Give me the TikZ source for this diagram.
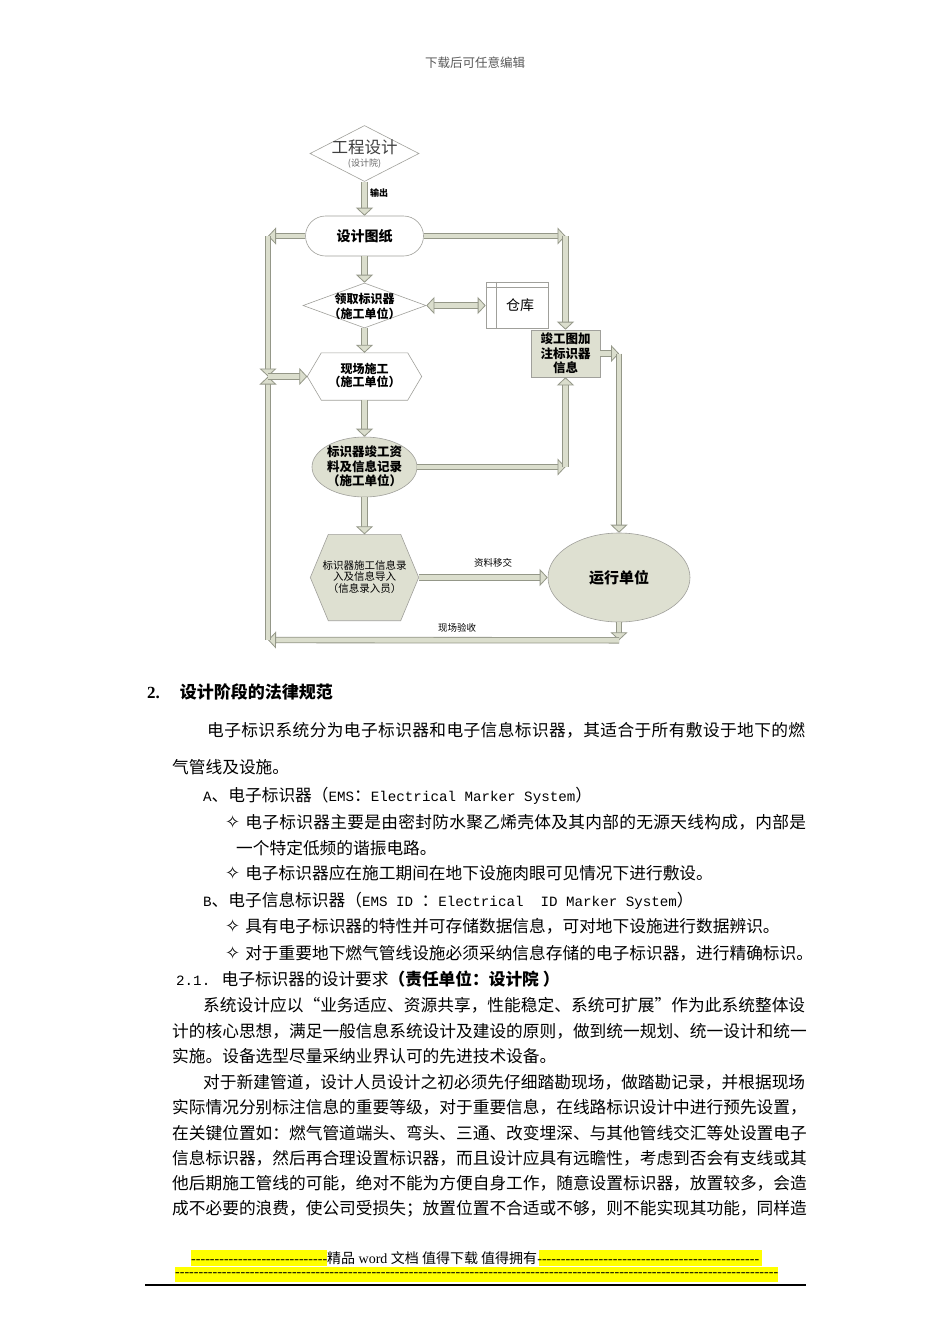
\documentclass[tikz,border=0pt]{standalone}
\usepackage{fontspec}
\setmainfont{Noto Sans CJK SC}
\newfontfamily\mono{Liberation Mono}
\newfontfamily\lserif{Liberation Serif}
\newfontfamily\dejavu{DejaVu Sans}
\usetikzlibrary{shapes.geometric,arrows.meta}
% inter-character stretch for CJK so that full lines can be justified
\XeTeXinterchartokenstate=1
\newXeTeXintercharclass\cjkcls
\count255="3000
\loop\ifnum\count255<"3040 \XeTeXcharclass\count255=\cjkcls \advance\count255 by 1 \repeat
\count255="4E00
\loop\ifnum\count255<"A000 \XeTeXcharclass\count255=\cjkcls \advance\count255 by 1 \repeat
\count255="FF00
\loop\ifnum\count255<"FFF0 \XeTeXcharclass\count255=\cjkcls \advance\count255 by 1 \repeat
\XeTeXcharclass"201C=\cjkcls
\XeTeXcharclass"201D=\cjkcls
\XeTeXinterchartoks\cjkcls\cjkcls={\hskip 0pt plus 4pt\relax}
\definecolor{pipef}{RGB}{219,222,205}
\definecolor{pipeb}{RGB}{148,151,136}
\definecolor{shapef}{RGB}{222,224,209}
\definecolor{shapeb}{RGB}{160,160,155}
\definecolor{hl}{RGB}{255,255,0}
\newcommand{\fsz}[2]{\fontsize{#1}{#2}\selectfont}
\newcommand{\dashfill}[1]{\makebox[#1]{\xleaders\hbox{-}\hfill}}
\newcommand{\dia}{{\dejavu\fsz{18}{18}✧}\hspace{5pt}}
\tikzset{
  pipe/.style={draw=pipeb, line width=0.8pt, double=pipef, double distance=4.8pt, line join=miter},
  tipd/.style={pipe, -{Triangle[length=8pt,width=17pt,fill=pipef,color=pipeb,line width=0.8pt]}},
  tipb/.style={pipe, {Triangle[length=8pt,width=17pt,fill=pipef,color=pipeb,line width=0.8pt]}-{Triangle[length=8pt,width=17pt,fill=pipef,color=pipeb,line width=0.8pt]}},
  shp/.style={draw=shapeb, line width=0.6pt, inner sep=0pt},
  lbl/.style={inner sep=0pt, align=center},
  body/.style={inner sep=0pt, anchor=west, font=\fsz{16.7}{20}},
}
\begin{document}
\begin{tikzpicture}[x=1pt,y=-1pt]
\useasboundingbox (0,0) rectangle (950,1344);
\fill[white] (0,0) rectangle (950,1344);
\node[lbl, text=black!65, font=\fsz{12.5}{14}] (hdr) at (475,63) {下载后可任意编辑};

% ---------- shapes ----------
\node[shp, diamond, fill=white, minimum width=109pt, minimum height=56pt] (gc) at (364.5,153.5) {};
\node[lbl, text=black!75, font=\fsz{16.5}{18}] (gct) at (364.5,147) {工程设计};
\node[lbl, text=black!60, font=\fsz{9}{10}] (gcs) at (364.5,164) {(设计院)};

\node[shp, rectangle, rounded corners=20pt, fill=white, minimum width=118pt, minimum height=40pt, font=\bfseries\fsz{14}{16}] (tz) at (364.5,236) {设计图纸};

\node[shp, diamond, fill=white, minimum width=123pt, minimum height=45pt] (lq) at (364.5,305.5) {};
\node[lbl, font=\bfseries\fsz{12}{15}] (lqt) at (364.5,306.5) {领取标识器\\（施工单位）};

\node[shp, rectangle, fill=white, minimum width=62pt, minimum height=46pt, font=\fsz{14}{16}] (ck) at (517,305) {\hspace{6pt}仓库};
\draw[shapeb, line width=0.6pt] ([xshift=11pt]ck.north west) -- ([xshift=11pt]ck.south west);
\draw[shapeb, line width=0.6pt] ([yshift=-6pt]ck.north west) -- ([yshift=-6pt]ck.north east);

\node[shp, rectangle, fill=shapef, minimum width=69pt, minimum height=47pt, align=center, font=\bfseries\fsz{12.5}{14.5}] (jg) at (565.5,353.5) {竣工图加\\注标识器\\信息};

\node[inner sep=0pt, minimum width=114pt, minimum height=47pt] (xc) at (364.5,376.5) {};
\draw[shp, fill=white] (xc.west) -- ([xshift=14pt]xc.north west) -- ([xshift=-14pt]xc.north east) -- (xc.east) -- ([xshift=-14pt]xc.south east) -- ([xshift=14pt]xc.south west) -- cycle;
\node[lbl, font=\bfseries\fsz{12}{13.5}] (xct) at (364.5,375.5) {现场施工\\（施工单位）};

\node[shp, ellipse, fill=shapef, minimum width=105pt, minimum height=60pt] (e1) at (364.5,467) {};
\node[lbl, font=\bfseries\fsz{12.5}{14.5}] (e1t) at (364.5,466.5) {标识器竣工资\\料及信息记录\\（施工单位）};

\node[inner sep=0pt, minimum width=108pt, minimum height=86pt] (h2) at (364.5,577.5) {};
\draw[shp, fill=shapef] (h2.west) -- ([xshift=18pt]h2.north west) -- ([xshift=-18pt]h2.north east) -- (h2.east) -- ([xshift=-18pt]h2.south east) -- ([xshift=18pt]h2.south west) -- cycle;
\node[lbl, font=\fsz{10.5}{11.5}] (h2t) at (364.5,577) {标识器施工信息录\\入及信息导入\\（信息录入员）};

\node[shp, ellipse, fill=shapef, minimum width=142pt, minimum height=89pt, font=\bfseries\fsz{15}{17}] (yx) at (619,577.5) {运行单位};

% ---------- connector points ----------
\coordinate (c1) at (jg.north |- tz.east);
\coordinate (c2) at (jg.south |- e1.east);
\coordinate (c3) at (yx.north |- jg.east);
\coordinate (c4) at ([yshift=-18pt]yx.south);
\coordinate (c5) at (268,640);
\coordinate (c6) at (c5 |- xc.west);
\coordinate (c7) at (c5 |- tz.west);

% ---------- connectors ----------
\draw[tipd] (gc.south) -- (tz.north);
\draw[tipd] (tz.south) -- (lq.north);
\draw[tipd] (lq.south) -- (xc.north);
\draw[tipd] (xc.south) -- (e1.north);
\draw[tipd] (e1.south) -- (h2.north);
\draw[tipd] (h2.east) -- (yx.west);
\draw[tipb] (lq.east) -- (lq.east -| ck.west);
\draw[tipd] (tz.east) -- (c1);
\draw[tipd] (c1) -- (jg.north);
\draw[tipd] (e1.east) -- (c2);
\draw[tipd] (c2) -- (jg.south);
\draw[tipd] (jg.east) -- (c3);
\draw[tipd] (c3) -- (yx.north);
\draw[tipd] (yx.south) -- (c4);
\draw[tipd] (c4) -- (c5);
\draw[tipd] (c5) -- (c6);
\draw[tipd] (tz.west) -- (c7);
\draw[tipd] (c7) -- (c6);
\draw[tipd] (c6) -- (xc.west);

\node[lbl, font=\bfseries\fsz{9}{10}] (outl) at (379,193) {输出};
\node[lbl, font=\fsz{9.5}{11}] (zll) at (493,563) {资料移交};
\node[lbl, font=\fsz{9.5}{11}] (xyl) at (457,628) {现场验收};

% ---------- body text ----------
\node[inner sep=0pt, anchor=west] (p0) at (147,692) {{\lserif\bfseries\fsz{17}{20}2.}\hspace{20pt}{\bfseries\fsz{17}{20}设计阶段的法律规范}};
\node[body] (p1) at (207,730) {\makebox[598pt][s]{电子标识系统分为电子标识器和电子信息标识器，其适合于所有敷设于地下的燃}};
\node[body] (p2) at (172,767) {气管线及设施。};
\node[body] (p3) at (203,796) {{\mono\fsz{14.2}{20}A}、电子标识器（{\mono\fsz{14.2}{20}EMS}：{\mono\fsz{14.2}{20}Electrical Marker System}）};
\node[body] (p4) at (225,822) {\makebox[581pt][s]{\dia 电子标识器主要是由密封防水聚乙烯壳体及其内部的无源天线构成，内部是}};
\node[body] (p5) at (236,848) {一个特定低频的谐振电路。};
\node[body] (p6) at (225,873) {\dia 电子标识器应在施工期间在地下设施肉眼可见情况下进行敷设。};
\node[body] (p7) at (203,901) {{\mono\fsz{14.2}{20}B}、电子信息标识器（{\mono\fsz{14.2}{20}EMS ID }：{\mono\fsz{14.2}{20}Electrical\ \ ID Marker System}）};
\node[body] (p8) at (225,926) {\dia 具有电子标识器的特性并可存储数据信息，可对地下设施进行数据辨识。};
\node[body] (p9) at (225,953) {\makebox[581pt][s]{\dia 对于重要地下燃气管线设施必须采纳信息存储的电子标识器，进行精确标识。}};
\node[body] (p10) at (176,979) {{\mono\fsz{14.2}{20}2.1. }电子标识器的设计要求{\bfseries （责任单位：设计院 ）}};
\node[body] (p11) at (203,1005) {\makebox[602pt][s]{系统设计应以“业务适应、资源共享，性能稳定、系统可扩展”作为此系统整体设}};
\node[body] (p12) at (172,1031) {\makebox[633pt][s]{计的核心思想，满足一般信息系统设计及建设的原则，做到统一规划、统一设计和统一}};
\node[body] (p13) at (172,1056) {实施。设备选型尽量采纳业界认可的先进技术设备。};
\node[body] (p14) at (203,1082) {\makebox[602pt][s]{对于新建管道，设计人员设计之初必须先仔细踏勘现场，做踏勘记录，并根据现场}};
\node[body] (p15) at (172,1107) {\makebox[634pt][s]{实际情况分别标注信息的重要等级，对于重要信息，在线路标识设计中进行预先设置，}};
\node[body] (p16) at (172,1133) {\makebox[634pt][s]{在关键位置如：燃气管道端头、弯头、三通、改变埋深、与其他管线交汇等处设置电子}};
\node[body] (p17) at (172,1158) {\makebox[634pt][s]{信息标识器，然后再合理设置标识器，而且设计应具有远瞻性，考虑到否会有支线或其}};
\node[body] (p18) at (172,1183) {\makebox[634pt][s]{他后期施工管线的可能，绝对不能为方便自身工作，随意设置标识器，放置较多，会造}};
\node[body] (p19) at (172,1209) {\makebox[634pt][s]{成不必要的浪费，使公司受损失；放置位置不合适或不够，则不能实现其功能，同样造}};

% ---------- footer ----------
\fill[hl] (191,1250) rectangle (762,1266);
\fill[hl] (175,1267) rectangle (778,1282);
\fill[white] (327,1250) rectangle (539,1266);
\node[inner sep=0pt, anchor=west, font=\lserif\fsz{14}{16}] (f1) at (191,1258) {\dashfill{136pt}{\fontspec{Noto Sans CJK SC}精品} word {\fontspec{Noto Sans CJK SC}文档 值得下载 值得拥有}\dashfill{222pt}};
\node[inner sep=0pt, anchor=west, font=\lserif\fsz{14}{16}] (f2) at (175,1274.5) {\dashfill{603pt}};
\draw[line width=1.4pt] (145,1285) -- (806,1285);
\end{tikzpicture}
\end{document}
